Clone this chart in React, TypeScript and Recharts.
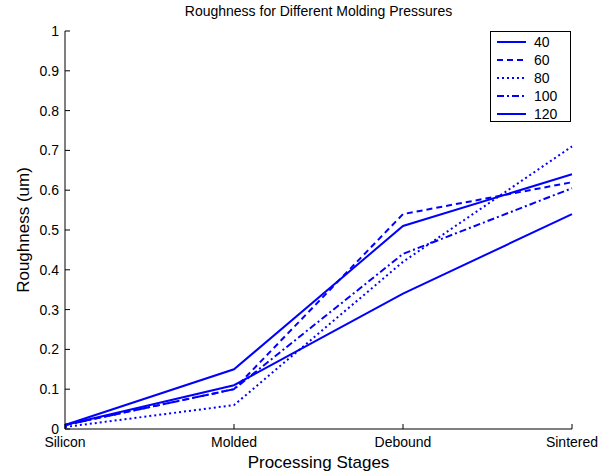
import React from "react";
import { LineChart, Line, XAxis, YAxis, Label } from "recharts";

// processing stages on the x axis
const stages = ["Silicon", "Molded", "Debound", "Sintered"];

// roughness (um) per molding pressure
const p40 = [0.01, 0.15, 0.51, 0.64];
const p60 = [0.01, 0.1, 0.54, 0.62];
const p80 = [0.005, 0.06, 0.42, 0.71];
const p100 = [0.01, 0.1, 0.44, 0.605];
const p120 = [0.01, 0.11, 0.34, 0.54];

const pressureNames = ["40", "60", "80", "100", "120"];
const yTicks = [0, 0.1, 0.2, 0.3, 0.4, 0.5, 0.6, 0.7, 0.8, 0.9, 1];

const BLUE = "#0000ff";
const FONT = "'Liberation Sans', Arial, Helvetica, sans-serif";

const series = [
  { key: "p40", name: pressureNames[0], values: p40, dash: undefined },
  { key: "p60", name: pressureNames[1], values: p60, dash: "6 4" },
  { key: "p80", name: pressureNames[2], values: p80, dash: "2 3" },
  { key: "p100", name: pressureNames[3], values: p100, dash: "7 3 2 3" },
  { key: "p120", name: pressureNames[4], values: p120, dash: undefined },
];

const data = stages.map((stage, i) => {
  const row: Record<string, string | number> = { stage };
  series.forEach((s) => {
    row[s.key] = s.values[i];
  });
  return row;
});

const tickStyle = { fontSize: 14, fill: "#000", fontFamily: FONT };

function LegendBox() {
  return (
    <div
      style={{
        position: "absolute",
        left: 490,
        top: 31,
        width: 81,
        height: 91,
        background: "#fff",
        border: "1px solid #000",
        boxSizing: "border-box",
        fontFamily: FONT,
        fontSize: 14,
      }}
    >
      {series.map((s, i) => (
        <div
          key={s.key}
          style={{
            position: "absolute",
            left: 6,
            top: 1 + i * 18,
            height: 18,
            display: "flex",
            alignItems: "center",
          }}
        >
          <svg width={29} height={4}>
            <line
              x1={0}
              x2={29}
              y1={2}
              y2={2}
              stroke={BLUE}
              strokeWidth={2}
              strokeDasharray={s.dash}
            />
          </svg>
          <span style={{ marginLeft: 8 }}>{s.name}</span>
        </div>
      ))}
    </div>
  );
}

export default function App() {
  return (
    <div
      style={{
        position: "absolute",
        left: 0,
        top: 0,
        width: 608,
        height: 473,
        background: "#fff",
      }}
    >
      <div
        style={{
          position: "absolute",
          left: 65,
          width: 507,
          top: 3,
          textAlign: "center",
          fontFamily: FONT,
          fontSize: 14,
        }}
      >
        Roughness for Different Molding Pressures
      </div>
      <LineChart
        width={608}
        height={473}
        data={data}
        margin={{ top: 31, right: 36, bottom: 0, left: 0 }}
      >
        <XAxis
          dataKey="stage"
          scale="point"
          padding={{ left: 0, right: 0 }}
          height={44}
          tick={tickStyle}
          tickSize={-5}
          tickMargin={13}
          axisLine={{ stroke: "#000" }}
          tickLine={{ stroke: "#000" }}
          interval={0}
        >
          <Label
            value="Processing Stages"
            position="insideBottom"
            offset={5}
            style={{ fontSize: 17, fill: "#000", fontFamily: FONT }}
          />
        </XAxis>
        <XAxis
          xAxisId="top"
          dataKey="stage"
          orientation="top"
          scale="point"
          padding={{ left: 0, right: 0 }}
          height={0}
          tick={false}
          tickSize={-5}
          axisLine={{ stroke: "#000" }}
          tickLine={{ stroke: "#000" }}
          interval={0}
        />
        <YAxis
          type="number"
          domain={[0, 1]}
          ticks={yTicks}
          width={65}
          tick={tickStyle}
          tickSize={-5}
          tickMargin={11}
          axisLine={{ stroke: "#000" }}
          tickLine={{ stroke: "#000" }}
          interval={0}
        >
          <Label
            value="Roughness (um)"
            angle={-90}
            position="center"
            dx={-10}
            style={{
              fontSize: 17,
              fill: "#000",
              fontFamily: FONT,
              textAnchor: "middle",
            }}
          />
        </YAxis>
        <YAxis
          yAxisId="right"
          orientation="right"
          type="number"
          domain={[0, 1]}
          ticks={yTicks}
          width={0}
          tick={false}
          tickSize={-5}
          axisLine={{ stroke: "#000" }}
          tickLine={{ stroke: "#000" }}
          interval={0}
        />
        {series.map((s) => (
          <Line
            key={s.key}
            dataKey={s.key}
            name={s.name}
            type="linear"
            stroke={BLUE}
            strokeWidth={2}
            strokeDasharray={s.dash}
            dot={false}
            activeDot={false}
            isAnimationActive={false}
          />
        ))}
      </LineChart>
      <LegendBox />
    </div>
  );
}
